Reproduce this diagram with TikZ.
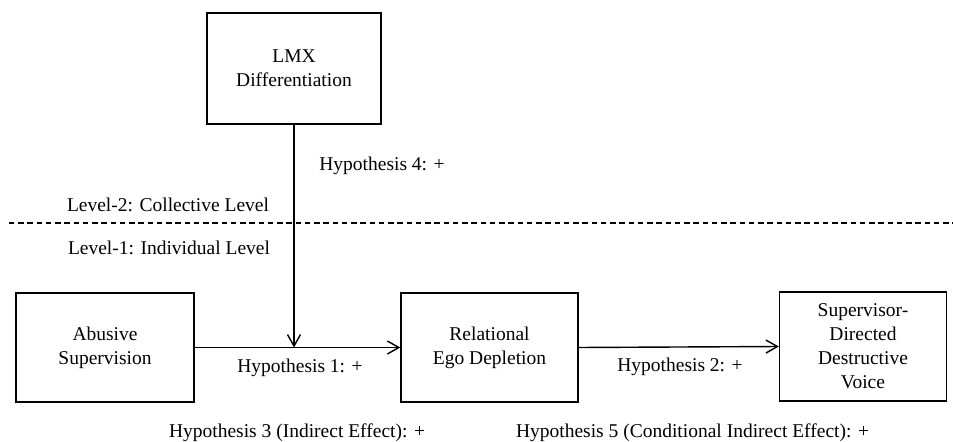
\documentclass[tikz,border=0pt]{standalone}
\usepackage{fontspec}
\setmainfont{Liberation Serif}
\usetikzlibrary{arrows.meta}
\begin{document}
\begin{tikzpicture}[x=0.02cm,y=-0.02cm,
  every node/.style={font=\fontsize{11.1}{13.6}\selectfont},
  box/.style={draw,line width=0.8pt,align=center,inner sep=0pt},
  lbl/.style={inner sep=0pt,anchor=center},
  arr/.style={line width=0.8pt,-{Straight Barb[length=2.3mm,width=2.6mm,line width=0.8pt]}},
  sep/.style={line width=0.7pt,dash pattern=on 1.1mm off 0.75mm}]
\useasboundingbox (0,0) rectangle (953,442);
\node[box,minimum width=174*0.02cm,minimum height=111*0.02cm] (lmx) at (294,68.5) {LMX\\Differentiation};
\node[box,minimum width=178*0.02cm,minimum height=109*0.02cm] (abs) at (105,347.5) {Abusive\\Supervision};
\node[box,minimum width=177*0.02cm,minimum height=109*0.02cm] (rel) at (489.5,347.5) {Relational\\Ego Depletion};
\node[box,minimum width=167*0.02cm,minimum height=109*0.02cm] (sup) at (863,346.5) {Supervisor-\\Directed\\Destructive\\Voice};
\coordinate (dl) at (9,223);
\coordinate (dr) at (953,223);
\draw[sep] (dl) -- (dr);
\node[lbl] (l2) at (168,205) {Level-2: Collective Level};
\node[lbl] (l1) at (169,248) {Level-1: Individual Level};
\coordinate (meet) at (lmx.south |- abs.east);
\draw[arr] (abs.east) -- (rel.west);
\draw[arr] (rel.east) -- (sup.west);
\draw[arr] (lmx.south) -- (meet);
\node[lbl] (h4) at (382,166) {Hypothesis 4: +};
\node[lbl] (h1) at (300,368) {Hypothesis 1: +};
\node[lbl] (h2) at (680,367) {Hypothesis 2: +};
\node[lbl] (h3) at (297,433) {Hypothesis 3 (Indirect Effect): +};
\node[lbl] (h5) at (692.5,433) {Hypothesis 5 (Conditional Indirect Effect): +};
\end{tikzpicture}
\end{document}
